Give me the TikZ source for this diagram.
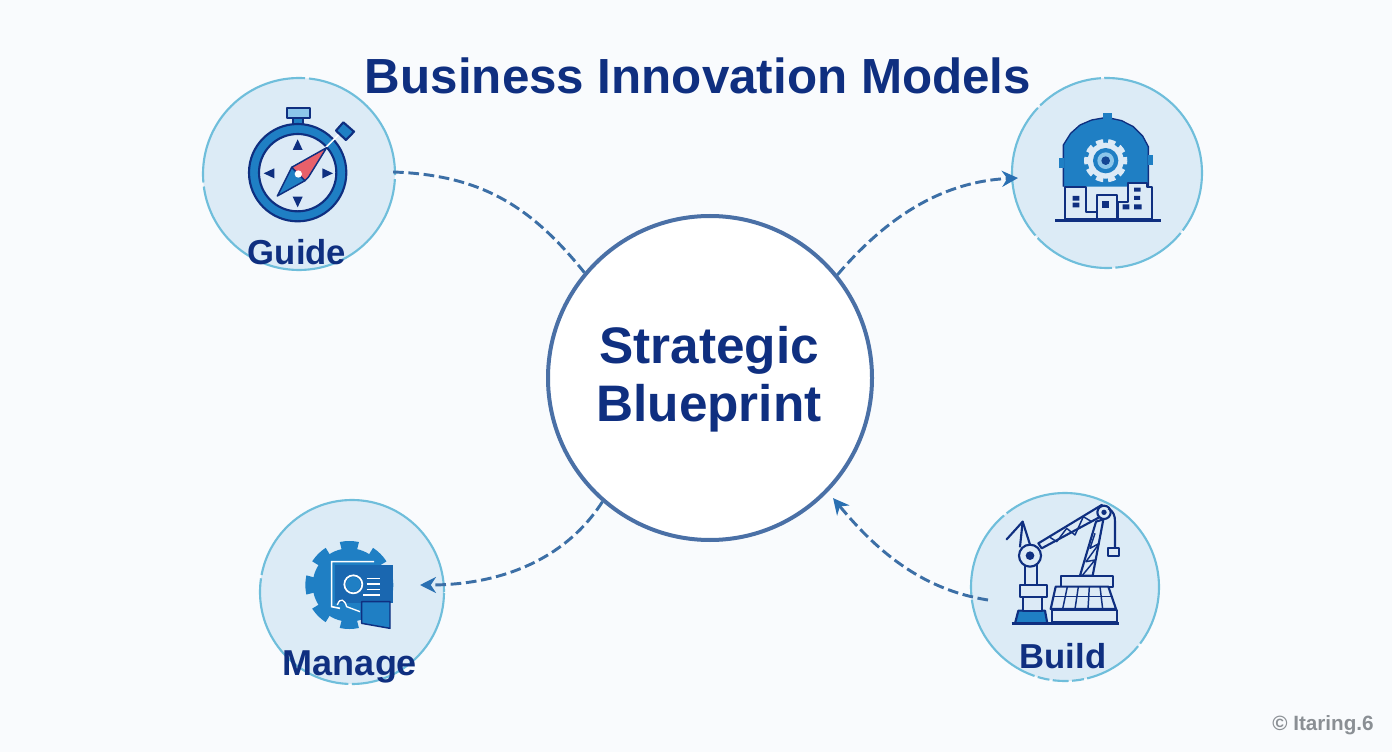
\documentclass[tikz,border=0pt]{standalone}
\usepackage{fontspec}
\setmainfont{Liberation Sans}
\usetikzlibrary{arrows.meta}
\definecolor{bgc}{HTML}{F9FBFD}
\definecolor{navy}{HTML}{0F2F80}
\definecolor{hubline}{HTML}{4A70A6}
\definecolor{ringline}{HTML}{6FBEDB}
\definecolor{ringfill}{HTML}{DCEBF6}
\definecolor{conn}{HTML}{3C6FA6}
\definecolor{tip}{HTML}{2A70B2}
\definecolor{iconblue}{HTML}{1F7FC4}
\definecolor{iconlight}{HTML}{DCEAF6}
\definecolor{iconsky}{HTML}{8CC6EA}
\definecolor{needlered}{HTML}{E8606A}
\definecolor{wm}{HTML}{8A8F94}
\tikzset{
  ring/.style={circle,inner sep=0pt,fill=ringfill,draw=ringline,line width=1.6pt},
  hub/.style={circle,inner sep=0pt,minimum size=243pt,fill=white,draw=hubline,line width=3pt},
  link/.style={draw=conn,line width=2.2pt,dash pattern=on 8pt off 3.5pt},
  arrowed/.style={-{Stealth[length=12pt,width=12pt,color=tip]}},
  head/.style={text=navy,font=\bfseries\fontsize{37pt}{44pt}\selectfont},
  hubtext/.style={text=navy,font=\bfseries\fontsize{38.5pt}{43.5pt}\selectfont,align=center},
  tag/.style={text=navy,font=\bfseries\fontsize{26pt}{30pt}\selectfont},
  nav/.style={draw=navy,line width=1.6pt,line join=round},
  navthin/.style={draw=navy,line width=1.1pt,line join=round},
  iconzoom/.style={x=.25pt,y=-.25pt}
}
\begin{document}
\begin{tikzpicture}[x=.75pt,y=-.75pt]
\useasboundingbox (0,0) rectangle (1392,752);
\fill[bgc] (0,0) rectangle (1392,752);

\node[head] (title) at (698,76) {Business Innovation Models};

\node[hub] (core) at (710,378) {};
\node[hubtext] (coretext) at (709,379) {Strategic\\Blueprint};

\node[ring,minimum size=144pt,dash pattern=on 105.6pt off 3pt on 124pt off 3pt on 213pt off 3pt] (guide) at (299,174) {};
\node[ring,minimum size=142.5pt,dash pattern=on 114pt off 2.5pt on 51pt off 2.5pt on 105pt off 2.5pt on 62pt off 2.5pt on 57pt off 2.5pt on 48pt off 2pt] (plant) at (1107,173) {};
\node[ring,minimum size=138pt,dash pattern=on 204pt off 2.5pt on 116pt off 2.5pt on 108pt off 2pt] (manage) at (352,592) {};
\node[ring,minimum size=141pt,dash pattern=on 158pt off 2.5pt on 68pt off 2.5pt on 78pt off 2.5pt on 9pt off 2.5pt on 12pt off 2.5pt on 9pt off 2.5pt on 46pt off 2.5pt on 48pt off 2.5pt] (build) at (1065,587) {};

\coordinate (planttip) at (1018,178);
\coordinate (managetip) at (420,585);
\coordinate (buildport) at (988,600);

\draw[link] (guide.east) ++(-3,-2) .. controls (480,175) and (530,205) .. (core.140);
\draw[link,arrowed] (core.39) .. controls (880,225) and (935,182) .. (planttip);
\draw[link,arrowed] (core.229) .. controls (565,560) and (500,585) .. (managetip);
\draw[link,arrowed,shorten >=6pt] (buildport) .. controls (925,590) and (880,555) .. (core.316);

% compass
\begin{scope}[shift={(190,70)},iconzoom]
  \draw[nav,fill=iconsky] (291,113) rectangle (359,145);
  \draw[nav,fill=iconblue] (308,145) rectangle (340,168);
  \draw[nav,fill=iconblue] (323,308) circle[radius=146];
  \draw[nav,fill=iconlight] (323,308) circle[radius=116];
  \fill[navy] (323,208)--(308,240)--(338,240)--cycle;
  \fill[navy] (323,412)--(308,380)--(338,380)--cycle;
  \fill[navy] (221,310)--(253,295)--(253,325)--cycle;
  \fill[navy] (429,310)--(397,295)--(397,325)--cycle;
  \draw[white,line width=1.2pt] (400,240)--(445,195);
  \filldraw[nav,fill=iconblue] (460,157)--(492,185)--(468,210)--(438,182)--cycle;
  \filldraw[navthin,fill=iconblue] (262,378)--(305,292)--(345,332)--cycle;
  \filldraw[navthin,fill=needlered] (305,292)--(410,233)--(355,322)--(345,332)--cycle;
  \fill[white] (325,312) circle[radius=11];
\end{scope}

% plant
\begin{scope}[shift={(1000,70)},iconzoom]
  \fill[iconblue] (190,350)--(190,225)--(212,190)--(240,165)--(275,150)--(320,142)--(365,152)--(400,170)--(428,198)--(445,230)--(445,350)--cycle;
  \draw[navy,line width=1pt] (190,350)--(190,225)--(212,190)--(240,165)--(275,150)--(320,142)--(365,152)--(400,170)--(428,198)--(445,230)--(445,350);
  \fill[iconblue] (309,130) rectangle (335,146);
  \fill[iconblue] (178,265) rectangle (192,295);
  \fill[iconblue] (445,255) rectangle (460,285);
  \draw[iconlight,line width=3.5pt,dash pattern=on 5.4pt off 3.7pt,dash phase=2.7pt] (317,272) circle[radius=58];
  \fill[iconlight] (317,272) circle[radius=54];
  \fill[iconblue] (317,272) circle[radius=38];
  \fill[iconsky] (317,272) circle[radius=25];
  \fill[navy!70!iconblue] (317,272) circle[radius=13];
  \draw[nav,fill=iconlight] (195,447)--(195,350)--(258,350)--(258,425)--(290,425)--(290,447)--cycle;
  \draw[nav,fill=iconlight] (290,447)--(290,375)--(350,375)--(350,447)--cycle;
  \draw[nav,fill=iconlight] (355,447)--(355,395)--(385,395)--(385,340)--(440,340)--(440,350)--(456,350)--(456,447)--cycle;
  \draw[navy,line width=2.4pt] (165,452)--(482,452);
  \fill[navy] (218,378) rectangle (238,392) (218,398) rectangle (238,412);
  \fill[navy] (305,393) rectangle (328,415);
  \fill[navy] (368,403) rectangle (388,418) (402,403) rectangle (425,418) (402,378) rectangle (420,390) (402,353) rectangle (422,365);
\end{scope}

% manage
\begin{scope}[shift={(250,490)},iconzoom]
  \draw[iconblue,line width=6pt,dash pattern=on 13pt off 10.56pt,dash phase=6.5pt] (298,285) circle[radius=120];
  \fill[iconblue] (298,285) circle[radius=110];
  \fill[navy!30!iconblue] (255,225) rectangle (430,340);
  \draw[white,line width=1.2pt] (372,215)--(245,215)--(245,350)--(270,355);
  \draw[white,line width=1.3pt] (310,283) circle[radius=27];
  \fill[iconblue] (310,283) circle[radius=22];
  \draw[white,line width=1pt] (350,265)--(390,265) (350,282)--(390,282) (350,298)--(390,298) (340,315)--(390,315);
  \draw[white,line width=1pt] (262,345) .. controls (270,320) and (285,330) .. (290,350) -- (330,365);
  \draw[navthin,fill=iconblue] (335,335)--(420,335)--(420,415)--(335,400)--cycle;
\end{scope}

% crane
\begin{scope}[shift={(960,480)},iconzoom]
  \draw[nav,fill=iconblue] (165,430)--(175,392)--(255,392)--(262,430)--cycle;
  \draw[nav,fill=iconlight] (190,392) rectangle (245,350);
  \draw[nav,fill=iconlight] (180,315) rectangle (260,350);
  \draw[nav,fill=iconlight] (195,315) rectangle (232,250);
  \draw[nav,line cap=round] (140,178)--(188,125)--(212,200);
  \draw[nav,line cap=round] (188,125)--(180,200);
  \draw[nav,fill=iconlight] (235,190)--(425,75)--(440,100)--(245,205)--cycle;
  \draw[navthin] (270,172)--(290,185)--(320,145)--(345,165)--(370,110)--(395,125);
  \draw[nav,fill=iconlight] (210,227) circle[radius=33];
  \fill[navy] (210,227) circle[radius=13];
  \draw[nav,fill=iconlight] (360,287)--(408,125)--(430,118)--(398,287)--cycle;
  \draw[navthin] (405,160)--(390,205)--(418,190)--(378,245)--(405,240)--(368,285);
  \draw[nav,fill=iconlight] (432,97) circle[radius=20];
  \fill[navy] (432,97) circle[radius=8];
  \draw[nav] (445,85) .. controls (460,95) and (465,105) .. (465,125) -- (465,205);
  \draw[nav,fill=iconlight] (443,205) rectangle (478,228);
  \draw[nav,fill=iconlight] (303,287) rectangle (458,320);
  \draw[nav,fill=iconlight] (287,320)--(445,320)--(468,387)--(272,387)--cycle;
  \draw[navthin] (280,350)--(456,350);
  \draw[navthin] (322,320)--(308,387) (355,320)--(345,387) (388,320)--(384,387) (420,320)--(428,387);
  \draw[nav,fill=iconlight] (275,390) rectangle (470,425);
  \draw[navy,line width=2pt] (155,430)--(478,430);
\end{scope}

\node[tag] (guidelabel) at (297,252) {Guide};
\node[tag,font=\bfseries\fontsize{27pt}{30pt}\selectfont] (managelabel) at (350,667) {Manage};
\node[tag] (buildlabel) at (1063,656) {Build};
\node[text=wm,font=\bfseries\fontsize{15.5pt}{18pt}\selectfont] (mark) at (1323,725) {© Itaring.6};
\end{tikzpicture}
\end{document}
